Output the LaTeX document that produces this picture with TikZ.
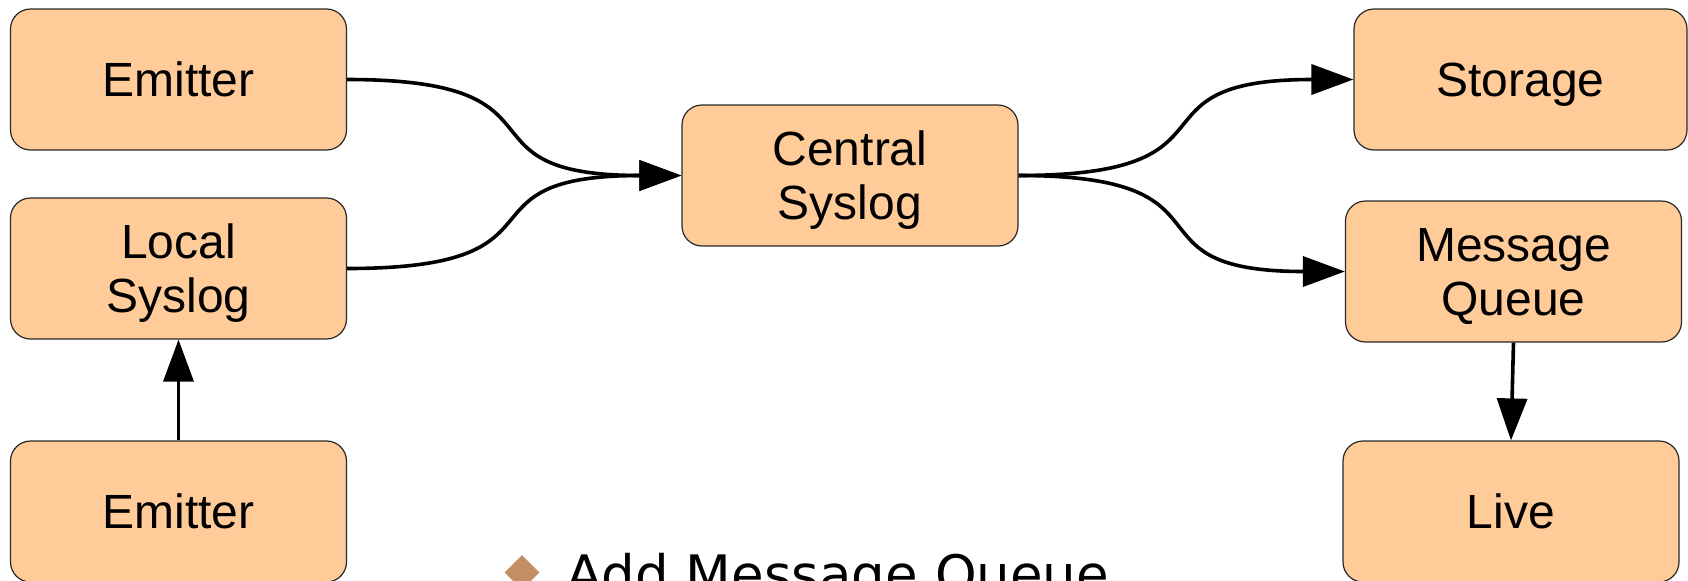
\documentclass[tikz,border=0pt]{standalone}
\usepackage{fontspec}
\setmainfont{Liberation Sans}
\newfontfamily\bulletfont{DejaVu Sans}
\usetikzlibrary{arrows.meta,shapes.geometric}

\definecolor{boxfill}{RGB}{255,204,153}
\definecolor{boxline}{RGB}{40,40,40}
\definecolor{bulletc}{RGB}{196,143,98}

% keep descenders out of the vertical centring of a label line
\newcommand{\flatline}[1]{\raisebox{0pt}[\height][0pt]{#1}}

\tikzset{
  procbox/.style={
    draw=boxline, line width=0.6pt, fill=boxfill, rounded corners=10pt,
    minimum width=168pt, minimum height=70.5pt, inner sep=0pt,
    align=center, font=\fontsize{24}{27}\selectfont
  },
  flow/.style={
    draw=black, line width=1.8pt,
    -{Triangle[length=21pt,width=15pt]}
  }
}

\begin{document}
\begin{tikzpicture}[x=0.5pt,y=-0.5pt]
  \useasboundingbox (0,0) rectangle (1688,580);

  % sources
  \node[procbox] (em1) at (178.5,79.5) {Emitter};
  \node[procbox] (loc) at (178.5,268.5) {Local\\\flatline{Syslog}};
  \node[procbox] (em2) at (178.5,511.5) {Emitter};

  % collector
  \node[procbox] (cen) at (850,175.5) {Central\\\flatline{Syslog}};

  % sinks
  \node[procbox, minimum width=166.5pt] (sto) at (1520.5,79.5) {\flatline{Storage}};
  \node[procbox] (mq) at (1513.5,271.5) {Message\\\flatline{Queue}};
  \node[procbox] (live) at (1511,511.5) {Live};

  % connectors
  \draw[flow] (em2.north) -- (loc.south);
  \draw[flow] (em1.east) .. controls +(235,0) and +(-235,0) .. (cen.west);
  \draw[flow] (loc.east) .. controls +(235,0) and +(-235,0) .. (cen.west);
  \draw[flow] (cen.east) .. controls +(235,0) and +(-235,0) .. (sto.west);
  \draw[flow] (cen.east) .. controls +(229,0) and +(-229,0) .. (mq.west);
  \draw[flow] (mq.south) -- (live.north);

  % bullet line
  \node[diamond, fill=bulletc, draw=none, inner sep=0pt, aspect=1,
        minimum width=17.5pt, minimum height=17.5pt] (bullet) at (522,572.5) {};
  \node[anchor=base west, inner sep=0pt,
        font=\bulletfont\fontsize{26.5}{30}\selectfont] (item) at (566,593)
        {Add Message Queue};
\end{tikzpicture}
\end{document}
